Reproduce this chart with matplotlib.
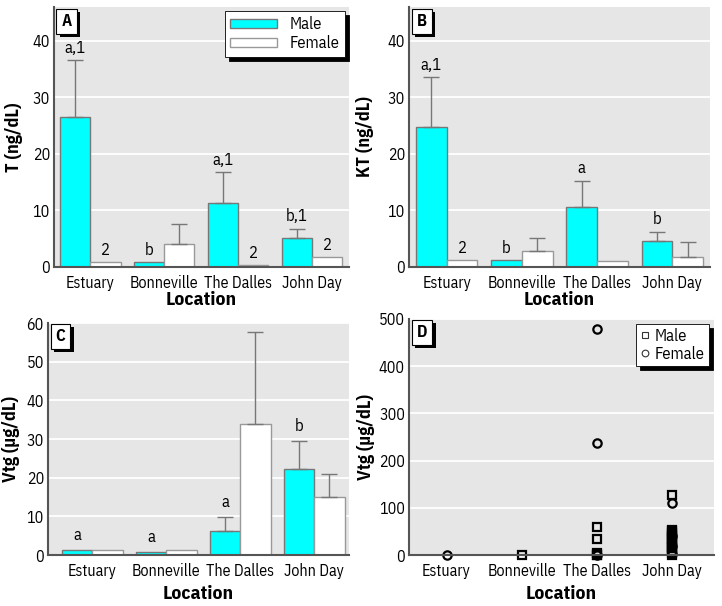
import numpy as np
import matplotlib
matplotlib.use("Agg")
import matplotlib.pyplot as plt
import matplotlib.patheffects as pe

plt.rcParams['font.family'] = ['IBM Plex Sans Condensed', 'DejaVu Sans']

locations = ["Estuary", "Bonneville", "The Dalles", "John Day"]

# panel A: testosterone
t_male = [26.6, 0.8, 11.4, 5.1]
t_male_err = [10.0, 0.0, 5.4, 1.7]
t_female = [0.8, 4.0, 0.3, 1.7]
t_female_err = [0.0, 3.6, 0.0, 0.0]
t_male_lab = ["a,1", "b", "a,1", "b,1"]
t_female_lab = ["2", "", "2", "2"]

# panel B: 11-ketotestosterone
kt_male = [24.8, 1.2, 10.6, 4.6]
kt_male_err = [8.8, 0.0, 4.7, 1.6]
kt_female = [1.2, 2.9, 1.0, 1.8]
kt_female_err = [0.0, 2.3, 0.0, 2.6]
kt_male_lab = ["a,1", "b", "a", "b"]
kt_female_lab = ["2", "", "", ""]

# panel C: vitellogenin means
vtg_male = [1.2, 0.9, 6.1, 22.2]
vtg_male_err = [0.0, 0.0, 3.7, 7.2]
vtg_female = [1.2, 1.2, 34.0, 15.1]
vtg_female_err = [0.0, 0.0, 23.6, 5.8]
vtg_male_lab = ["a", "a", "a", "b"]
vtg_female_lab = ["", "", "", ""]

# panel D: individual vitellogenin values
d_male_loc = [1, 2, 2, 2, 2, 2, 3, 3, 3, 3, 3, 3, 3, 3, 3, 3, 3, 3, 3, 3, 3]
d_male_val = [0, 59, 34, 4, 1, 0, 128, 54, 50, 46, 42, 38, 34, 30, 26, 22, 18, 14, 9, 5, 1]
d_female_loc = [0, 2, 2, 2, 3, 3, 3, 3]
d_female_val = [0, 479, 237, 0, 111, 40, 20, 3]

cyan = "#00ffff"
bg = "#e6e6e6"
w = 0.41


def style(ax, ylabel, ymax, ticks, xlim, ylab_x, xlab_y):
    ax.set_facecolor(bg)
    ax.set_axisbelow(True)
    ax.yaxis.grid(True, color="white", lw=1.3)
    ax.set_ylim(0, ymax)
    ax.set_yticks(ticks)
    ax.set_xlim(*xlim)
    ax.set_xticks(range(len(locations)))
    ax.set_xticklabels(locations)
    ax.tick_params(length=0, labelsize=11.5)
    ax.tick_params(axis="x", pad=6)
    ax.tick_params(axis="y", pad=3)
    for s in ["top", "right"]:
        ax.spines[s].set_visible(False)
    for s in ["left", "bottom"]:
        ax.spines[s].set_color("#555555")
        ax.spines[s].set_linewidth(1.5)
    ax.set_ylabel(ylabel, fontsize=13, fontweight="bold")
    ax.set_xlabel("Location", fontsize=14, fontweight="bold")
    ax.yaxis.set_label_coords(ylab_x, 0.5)
    ax.xaxis.set_label_coords(0.5, xlab_y)


def panel_label(ax, letter):
    t = ax.text(0.025, 0.975, letter, transform=ax.transAxes, fontsize=12,
                fontweight="bold", ha="left", va="top",
                bbox=dict(boxstyle="square,pad=0.3", fc="white", ec="black", lw=0.8))
    t.get_bbox_patch().set_path_effects([
        pe.SimplePatchShadow(offset=(2.5, -2.5), shadow_rgbFace="black", alpha=1),
        pe.Normal()])


def bars(ax, male, male_err, female, female_err, mlab, flab, off):
    x = np.arange(len(locations))
    ax.bar(x - w / 2, male, w, color=cyan, edgecolor="#777777", lw=1.0, label="Male")
    ax.bar(x + w / 2, female, w, color="white", edgecolor="#999999", lw=1.0, label="Female")
    for xi, v, e in zip(x - w / 2, male, male_err):
        if e > 0:
            ax.errorbar(xi, v, yerr=[[0], [e]], color="#777777", lw=1.0, capsize=6)
    for xi, v, e in zip(x + w / 2, female, female_err):
        if e > 0:
            ax.errorbar(xi, v, yerr=[[0], [e]], color="#777777", lw=1.0, capsize=6)
    for xi, v, e, lab in zip(x - w / 2, male, male_err, mlab):
        ax.text(xi, v + e + off, lab, ha="center", va="bottom", fontsize=12)
    for xi, v, e, lab in zip(x + w / 2, female, female_err, flab):
        ax.text(xi, v + e + off, lab, ha="center", va="bottom", fontsize=12)


fig = plt.figure(figsize=(7.22, 6.06), dpi=100)
axA = fig.add_axes([54 / 722, 1 - 267 / 606, 295 / 722, 260 / 606])
axB = fig.add_axes([409 / 722, 1 - 267 / 606, 301 / 722, 260 / 606])
axC = fig.add_axes([48 / 722, 1 - 555 / 606, 301 / 722, 232 / 606])
axD = fig.add_axes([409 / 722, 1 - 555 / 606, 305 / 722, 236 / 606])

bars(axA, t_male, t_male_err, t_female, t_female_err, t_male_lab, t_female_lab, 0.8)
style(axA, "T (ng/dL)", 46, [0, 10, 20, 30, 40], (-0.49, 3.5), -0.105, -0.092)
panel_label(axA, "A")
leg = axA.legend(loc="upper right", fontsize=12, fancybox=False, framealpha=1,
                 edgecolor="black", handlelength=2.8, handleheight=0.5,
                 borderaxespad=0.25, labelspacing=0.2, borderpad=0.3,
                 shadow={"color": "black", "alpha": 1, "ox": 3, "oy": -3})
leg.get_frame().set_linewidth(0.6)

bars(axB, kt_male, kt_male_err, kt_female, kt_female_err, kt_male_lab, kt_female_lab, 0.8)
style(axB, "KT (ng/dL)", 46, [0, 10, 20, 30, 40], (-0.5, 3.5), -0.115, -0.092)
panel_label(axB, "B")

bars(axC, vtg_male, vtg_male_err, vtg_female, vtg_female_err, vtg_male_lab, vtg_female_lab, 1.8)
style(axC, "Vtg (\u00b5g/dL)", 60, [0, 10, 20, 30, 40, 50, 60], (-0.6, 3.47), -0.092, -0.129)
panel_label(axC, "C")

axD.plot(d_male_loc, d_male_val, "s", mfc="none", mec="black", mew=1.6, ms=6,
         ls="none", label="Male", clip_on=False)
axD.plot(d_female_loc, d_female_val, "o", mfc="none", mec="black", mew=1.6, ms=6,
         ls="none", label="Female", clip_on=False)
style(axD, "Vtg (\u00b5g/dL)", 500, [0, 100, 200, 300, 400, 500], (-0.5, 3.56), -0.113, -0.127)
panel_label(axD, "D")
legD = axD.legend(loc="upper right", fontsize=12, fancybox=False, framealpha=1,
                  edgecolor="black", handlelength=0.6, handletextpad=0.3,
                  borderaxespad=0.3, markerscale=0.8, labelspacing=0.1, borderpad=0.25,
                  shadow={"color": "black", "alpha": 1, "ox": 3, "oy": -3})
for h in legD.legend_handles:
    h.set_markeredgewidth(0.8)
    h.set_markeredgecolor("#333333")
legD.get_frame().set_linewidth(0.6)

fig.savefig("out.png", dpi=100)
